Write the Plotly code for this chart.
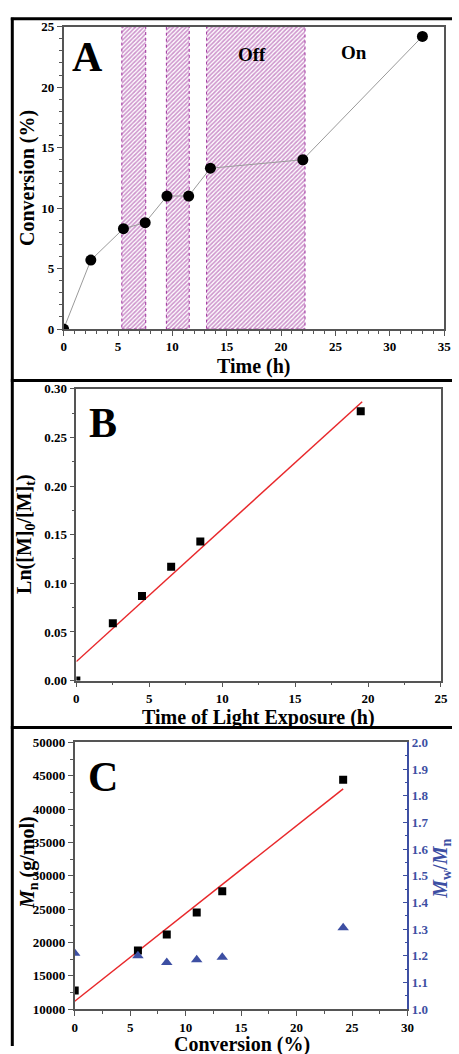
import plotly.graph_objects as go
import numpy as np

# ---------------- Data ----------------
# Panel A: conversion vs time with light on/off cycles
time_A = [0, 2.5, 5.5, 7.5, 9.5, 11.5, 13.5, 22, 33]
conv_A = [0, 5.7, 8.3, 8.8, 11.0, 11.0, 13.3, 14.0, 24.2]
dark_start = [5.35, 9.45, 13.15]
dark_end = [7.55, 11.55, 22.2]

# Panel B: kinetics
time_B = [0, 2.5, 4.5, 6.5, 8.5, 19.5]
lnM_B = [0.0, 0.059, 0.087, 0.117, 0.143, 0.277]

# Panel C: Mn and dispersity vs conversion
conv_C = [0, 5.7, 8.3, 11.0, 13.3, 24.2]
mn_C = [12800, 18800, 21200, 24500, 27700, 44400]
pdi_C = [1.21, 1.20, 1.175, 1.185, 1.195, 1.305]

FONT = "Liberation Serif"
PURPLE = "#9e2f9b"
BLUE = "#3d4fa3"
AXC = "#555555"
W, H = 459, 1054

def px(x):
    return x / W

def py(y):
    return 1 - y / H

fig = go.Figure()

# hatched "off" regions
for s, e in zip(dark_start, dark_end):
    fig.add_trace(go.Scatter(
        x=[s, e, e, s, s], y=[0, 0, 25, 25, 0], mode="lines",
        fill="toself", fillcolor="white",
        fillpattern=dict(shape="/", fgcolor=PURPLE, bgcolor="white", size=3, solidity=0.55),
        line=dict(color=PURPLE, width=1, dash="dot"),
        xaxis="x", yaxis="y", showlegend=False, hoverinfo="skip"))

fig.add_trace(go.Scatter(x=time_A, y=conv_A, mode="lines",
                         line=dict(color="#9a9a9a", width=1),
                         xaxis="x", yaxis="y", showlegend=False))
fig.add_trace(go.Scatter(x=time_A, y=conv_A, mode="markers",
                         marker=dict(color="black", size=11, symbol="circle"),
                         xaxis="x", yaxis="y", showlegend=False))

# Panel B
kB = np.polyfit(time_B, lnM_B, 1)
xb = np.array([0, 19.6])
fig.add_trace(go.Scatter(x=xb, y=np.polyval(kB, xb), mode="lines",
                         line=dict(color="#e8282b", width=1.5),
                         xaxis="x2", yaxis="y2", showlegend=False))
fig.add_trace(go.Scatter(x=time_B, y=lnM_B, mode="markers",
                         marker=dict(color="black", size=8, symbol="square"),
                         xaxis="x2", yaxis="y2", showlegend=False))

# Panel C
kC = np.polyfit(conv_C, mn_C, 1)
xc = np.array([0, 24.2])
fig.add_trace(go.Scatter(x=xc, y=np.polyval(kC, xc), mode="lines",
                         line=dict(color="#e8282b", width=1.5),
                         xaxis="x3", yaxis="y3", showlegend=False))
fig.add_trace(go.Scatter(x=conv_C, y=mn_C, mode="markers",
                         marker=dict(color="black", size=8, symbol="square"),
                         xaxis="x3", yaxis="y3", showlegend=False))
fig.add_trace(go.Scatter(x=conv_C, y=pdi_C, mode="markers",
                         marker=dict(color=BLUE, size=10, symbol="triangle-up"),
                         xaxis="x3", yaxis="y4", showlegend=False))

tickfont = dict(family=FONT, size=13, color="black", weight="bold")

def ax(domain, rng, dtick, minor, anchor, fmt=None, mirror=True, color=AXC, tfont=tickfont, ticks="outside"):
    d = dict(domain=domain, range=rng, dtick=dtick, tick0=0,
             ticks=ticks, ticklen=5, tickwidth=1.2, tickcolor=color,
             minor=dict(dtick=minor, ticks=ticks, ticklen=3, tickwidth=1, tickcolor=color),
             showline=True, linecolor=color, linewidth=1.5, mirror=mirror,
             showgrid=False, zeroline=False, anchor=anchor, tickfont=tfont)
    if fmt:
        d["tickformat"] = fmt
    return d

layout = dict(
    width=W, height=H, margin=dict(l=0, r=0, t=0, b=0),
    paper_bgcolor="white", plot_bgcolor="white", showlegend=False,
    xaxis=ax([px(62), px(451)], [0, 35], 5, 1, "y"),
    yaxis=ax([py(326.7), py(20)], [0, 25], 5, 1, "x"),
    xaxis2=ax([px(75), px(447.7)], [0, 25], 5, 2.5, "y2"),
    yaxis2=ax([py(683.3), py(387.3)], [0, 0.30], 0.05, 0.025, "x2", fmt=".2f"),
    xaxis3=ax([px(73.3), px(413.5)], [0, 30], 5, 2.5, "y3"),
    yaxis3=ax([py(1016.7), py(746)], [10000, 50000], 5000, 2500, "x3", fmt="d", mirror=False),
)
y4 = ax([py(1016.7), py(746)], [1.0, 2.0], 0.1, 0.05, "x3", fmt=".1f", mirror=False,
        color=BLUE, tfont=dict(family=FONT, size=13, color=BLUE, weight="bold"), ticks="inside")
y4.update(overlaying="y3", side="right")
layout["yaxis4"] = y4
fig.update_layout(**layout)

def ann(text, x, y, size, color="black", angle=0, yanchor="middle", xanchor="center"):
    fig.add_annotation(text=text, x=px(x), y=py(y), xref="paper", yref="paper",
                       showarrow=False, textangle=angle, xanchor=xanchor, yanchor=yanchor,
                       font=dict(family=FONT, size=size, color=color, weight="bold"))

# panel letters
ann("A", 86, 51, 42)
ann("B", 102.5, 422, 42)
ann("C", 102, 781, 42)
ann("Off", 255, 48, 19)
ann("On", 359, 46, 19)

# axis titles
ann("Time (h)", 256.5, 365, 20)
ann("Conversion (%)", 25, 173, 20, angle=-90)
ann("Time of Light Exposure (h)", 261, 721, 20)
ann("Ln([M]<sub>0</sub>/[M]<sub>t</sub>)", 23, 535, 20, angle=-90)
ann("Conversion (%)", 244, 1039, 20, yanchor="top")
ann("<i>M</i><sub>n</sub> (g/mol)", 26, 868, 20, angle=-90)
ann("<i>M</i><sub>w</sub>/<i>M</i><sub>n</sub>", 448, 874, 20, color=BLUE, angle=-90)

# panel frames
shapes = [
    dict(type="line", xref="paper", yref="paper", x0=px(9.5), x1=px(9.5), y0=py(11), y1=py(1054),
         line=dict(color="black", width=3)),
    dict(type="line", xref="paper", yref="paper", x0=px(8), x1=1, y0=py(12), y1=py(12),
         line=dict(color="black", width=3)),
    dict(type="line", xref="paper", yref="paper", x0=px(8), x1=1, y0=py(379), y1=py(379),
         line=dict(color="black", width=3)),
    dict(type="line", xref="paper", yref="paper", x0=px(8), x1=1, y0=py(731), y1=py(731),
         line=dict(color="black", width=3)),
]
fig.update_layout(shapes=shapes)

fig.write_html("out.html", config={"displayModeBar": False},
               post_script="document.body.style.margin='0';document.body.style.overflow='hidden';")
